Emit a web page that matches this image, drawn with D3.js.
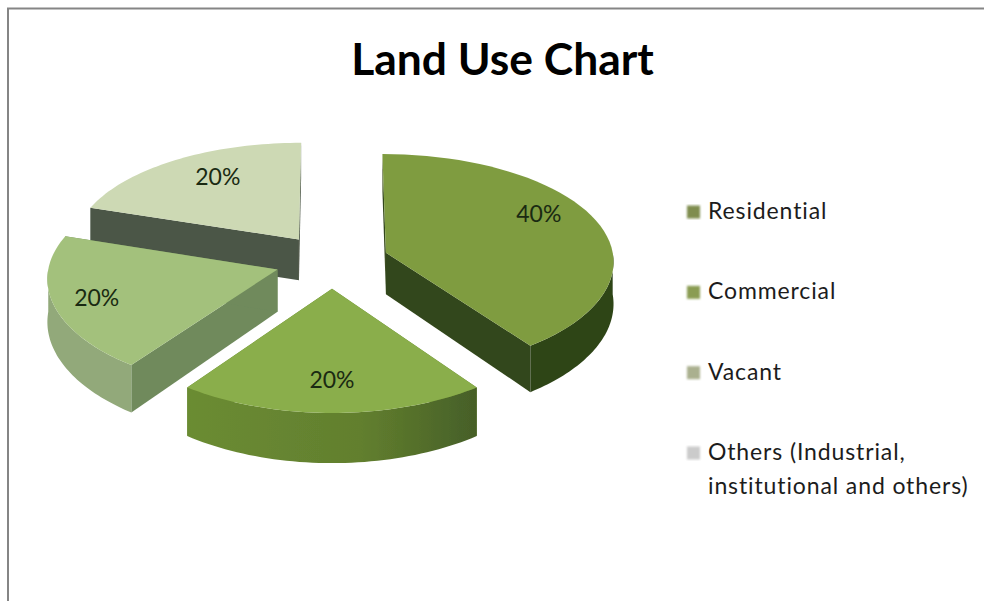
<!DOCTYPE html>
<html>
<head>
<meta charset="utf-8">
<script src="https://cdn.jsdelivr.net/npm/d3@7"></script>
<style>
  html, body { margin: 0; padding: 0; background: #fff; overflow: hidden; }
  text { font-family: Lato, "Open Sans", sans-serif; }
</style>
</head>
<body>
<svg id="chart" width="984" height="601"></svg>
<script>
// chart data
const categories = ["Residential", "Commercial", "Vacant", "Others (Industrial, institutional and others)"];
const shares = [40, 20, 20, 20];
const legendLines = [["Residential"], ["Commercial"], ["Vacant"], ["Others (Industrial,", "institutional and others)"]];

// colours per slice
const topColors = ["#7f9c40", "#8aae4b", "#a3c17c", "#cdd9b4"];
const rimColors = ["#2f4518", "#66862f", "#92a97a", "#cdd9b4"];
const cutColors = ["#33471a", "#66862f", "#6f8a5c", "#4c5747"];
const swatchColors = ["#7f8d4f", "#8a9c52", "#aab08f", "#cbcbcb"];

// pie layout settings
const cx = 332, cy = 261;
const radiusX = 228, radiusY = 108.5;
const persp = 0.086, perspX = 0.07;
const explode = 0.25;
const baseDepth = 42;
const labelRadius = [0.79, 0.75, 0.81, 0.737];
const labelTurn = [-10, 0, 0, 4.7]; // degrees

const svg = d3.select("#chart");

const defs = svg.append("defs");
defs.append("filter").attr("id", "soft")
  .append("feGaussianBlur").attr("stdDeviation", 0.6);
defs.append("filter").attr("id", "softer")
  .append("feGaussianBlur").attr("stdDeviation", 1);

// frame, open on the right and bottom
svg.append("path")
  .attr("d", "M8,601V8.5H984")
  .attr("fill", "none")
  .attr("stroke", "#858585")
  .attr("stroke-width", 2);

svg.append("text")
  .attr("x", 502.5)
  .attr("y", 75)
  .attr("text-anchor", "middle")
  .attr("font-size", 44.4)
  .attr("font-weight", 700)
  .attr("fill", "#000")
  .text("Land Use Chart");

const pie = d3.pie().sort(null).value(d => d).startAngle(0).endAngle(2 * Math.PI);
const arcs = pie(shares);

// plane point (unit radius, y down) -> screen
function project(x, y, lift) {
  let depth = lift ? baseDepth / (1 - 0.13 * y) : 0;
  return [cx + radiusX * x / (1 - perspX * y), cy + radiusY * y / (1 - persp * y) + depth];
}

function sliceOrigin(a) {
  let mid = (a.startAngle + a.endAngle) / 2;
  return [explode * Math.sin(mid), -explode * Math.cos(mid)];
}

function rimPoints(a, from, to, lift) {
  let o = sliceOrigin(a);
  let steps = 48;
  return d3.range(steps + 1).map(i => {
    let t = from + (to - from) * i / steps;
    return project(o[0] + Math.sin(t), o[1] - Math.cos(t), lift);
  });
}

const line = d3.line();
const pieGroup = svg.append("g").attr("filter", "url(#soft)");

// back slices first so that the front ones sit on top of them
const drawOrder = [3, 2, 0, 1];

// shaded rim on the front slice
const rimGrad = defs.append("linearGradient").attr("id", "rimGrad1");
rimGrad.append("stop").attr("offset", "0%").attr("stop-color", "#6b8c33");
rimGrad.append("stop").attr("offset", "60%").attr("stop-color", "#627f2e");
rimGrad.append("stop").attr("offset", "100%").attr("stop-color", "#465f28");

drawOrder.forEach(i => {
  let a = arcs[i];
  let o = sliceOrigin(a);
  let g = pieGroup.append("g").attr("class", "slice");
  let topRim = rimPoints(a, a.startAngle, a.endAngle, false);
  let lowRim = rimPoints(a, a.startAngle, a.endAngle, true);
  let apexTop = project(o[0], o[1], false);
  let apexLow = project(o[0], o[1], true);

  // the two cut faces
  [[topRim[0], lowRim[0]], [topRim[topRim.length - 1], lowRim[lowRim.length - 1]]].forEach(edge => {
    g.append("path")
      .attr("d", line([apexTop, edge[0], edge[1], apexLow]) + "Z")
      .attr("fill", cutColors[i]);
  });

  // outer wall, only the part that faces the viewer
  let from = Math.max(a.startAngle, Math.PI / 2);
  let to = Math.min(a.endAngle, 3 * Math.PI / 2);
  if (from < to) {
    g.append("path")
      .attr("d", line(rimPoints(a, from, to, false).concat(rimPoints(a, from, to, true).reverse())) + "Z")
      .attr("fill", i === 1 ? "url(#rimGrad1)" : rimColors[i]);
  }

  // top face
  g.append("path")
    .attr("d", line([apexTop].concat(topRim)) + "Z")
    .attr("fill", topColors[i]);
});

// percent labels
svg.append("g").selectAll("text")
  .data(arcs)
  .join("text")
  .attr("transform", (a, i) => {
    let o = sliceOrigin(a);
    let t = (a.startAngle + a.endAngle) / 2 + labelTurn[i] * Math.PI / 180;
    let p = project(o[0] + labelRadius[i] * Math.sin(t), o[1] - labelRadius[i] * Math.cos(t), false);
    return "translate(" + p[0] + "," + p[1] + ")";
  })
  .attr("dy", "0.35em")
  .attr("text-anchor", "middle")
  .attr("font-size", 23)
  .attr("fill", "#1a2a12")
  .text(a => a.data + "%");

// legend
const legendY = d3.scalePoint().domain(categories).range([212, 453]);
const legend = svg.append("g").selectAll("g")
  .data(categories)
  .join("g")
  .attr("transform", d => "translate(0," + legendY(d) + ")");

legend.append("rect")
  .attr("x", 687)
  .attr("y", -6.5)
  .attr("width", 13)
  .attr("height", 13)
  .attr("filter", "url(#softer)")
  .attr("fill", (d, i) => swatchColors[i]);

legend.each(function(d, i) {
  d3.select(this).selectAll("text")
    .data(legendLines[i])
    .join("text")
    .attr("x", 708)
    .attr("y", (l, j) => 7 + j * 34)
    .attr("font-size", 23)
    .attr("letter-spacing", 0.88)
    .attr("fill", "#1c1c1c")
    .text(l => l);
});
</script>
</body>
</html>
